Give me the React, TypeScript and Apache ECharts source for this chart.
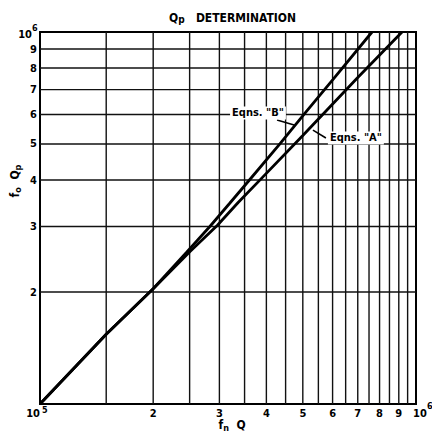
import React, { useEffect, useRef } from "react";
import * as echarts from "echarts";

// ---- data (values in units of 10^5) ----
const SCALE = 1e5;
const AXIS_MIN = 1e5;
const AXIS_MAX = 1e6;

const xGridValues = [1.5, 2, 2.5, 3, 3.5, 4, 4.5, 5, 5.5, 6, 6.5, 7, 7.5, 8, 8.5, 9, 9.5];
const yGridValues = [2, 3, 4, 5, 6, 7, 8, 9];
const tickValues = [2, 3, 4, 5, 6, 7, 8, 9];
const tickLabels = ["2", "3", "4", "5", "6", "7", "8", "9"];
const decadeLabels = ["10", "10", "10"];
const decadeExponents = ["5", "6", "6"];

const eqnAX = [1, 1.5, 2, 2.506, 2.96, 3.365, 3.9, 5, 6.97, 9.18];
const eqnAY = [1, 1.54, 2.04, 2.57, 3.02, 3.48, 4.06, 5.27, 7.51, 10];
const eqnBX = [1, 1.5, 2, 2.455, 2.83, 3.2, 3.62, 4.35, 5.08, 6.01, 7.64];
const eqnBY = [1, 1.54, 2.04, 2.56, 3, 3.47, 4.02, 5.01, 6.07, 7.45, 10];

const annotationLabels = ['Eqns. "B"', 'Eqns. "A"'];
const annotationX = [3.8, 6.92];
const annotationY = [6.06, 5.19];
const leaderFromX = [4.27, 5.32];
const leaderFromY = [5.8, 5.45];
const leaderToX = [4.74, 5.76];
const leaderToY = [5.62, 5.19];

const FONT = '"DejaVu Sans Condensed", "DejaVu Sans", sans-serif';

export default function App() {
  const ref = useRef<HTMLDivElement>(null);

  useEffect(() => {
    if (!ref.current) return;
    const chart = echarts.init(ref.current, undefined, { renderer: "svg" });

    const txt = (x: number, y: number, text: string, align: string, size = 11) => ({
      type: "text",
      x,
      y,
      style: {
        text,
        fill: "#000",
        fontFamily: FONT,
        fontWeight: "bold",
        fontSize: size,
        align,
        verticalAlign: "middle",
      },
    });

    const option: any = {
      animation: false,
      backgroundColor: "#fff",
      title: {
        text: "Q{s|p}   DETERMINATION",
        left: 164,
        top: 6,
        textStyle: {
          fontFamily: FONT,
          fontWeight: "bold",
          fontSize: 12,
          color: "#000",
          rich: {
            s: { fontFamily: FONT, fontWeight: "bold", fontSize: 10, color: "#000", padding: [3, 0, 0, 0] },
          },
        },
      },
      grid: {
        left: 40,
        right: 16,
        top: 32,
        bottom: 30,
        show: true,
        borderColor: "#000",
        borderWidth: 2,
        backgroundColor: "#fff",
        containLabel: false,
        outerBoundsMode: "none",
      },
      xAxis: {
        type: "log",
        logBase: 10,
        min: AXIS_MIN,
        max: AXIS_MAX,
        axisLine: { show: true, lineStyle: { color: "#000", width: 2 } },
        axisTick: { show: false },
        axisLabel: { show: false },
        splitLine: { show: false },
      },
      yAxis: {
        type: "log",
        logBase: 10,
        min: AXIS_MIN,
        max: AXIS_MAX,
        axisLine: { show: true, lineStyle: { color: "#000", width: 2 } },
        axisTick: { show: false },
        axisLabel: { show: false },
        splitLine: { show: false },
      },
      graphic: [
        {
          type: "text",
          x: 15,
          y: 181,
          rotation: Math.PI / 2,
          style: {
            text: "f{s|o}  Q{s|p}",
            fill: "#000",
            fontFamily: FONT,
            fontWeight: "bold",
            fontSize: 12,
            align: "center",
            verticalAlign: "middle",
            rich: {
              s: { fontFamily: FONT, fontWeight: "bold", fontSize: 9, fill: "#000", padding: [6, 0, 0, 0] },
            },
          },
        },
        {
          type: "text",
          x: 232,
          y: 425,
          style: {
            text: "f{s|n}  Q",
            fill: "#000",
            fontFamily: FONT,
            fontWeight: "bold",
            fontSize: 12,
            align: "center",
            verticalAlign: "middle",
            rich: {
              s: { fontFamily: FONT, fontWeight: "bold", fontSize: 9, fill: "#000", padding: [6, 0, 0, 0] },
            },
          },
        },
      ],
      series: [
        {
          type: "custom",
          name: "vgrid",
          silent: true,
          z: 1,
          data: xGridValues.map((v) => [v * SCALE, AXIS_MIN]),
          renderItem: (params: any, api: any) => {
            const v = api.value(0);
            const a = api.coord([v, AXIS_MIN]);
            const b = api.coord([v, AXIS_MAX]);
            return {
              type: "line",
              shape: { x1: a[0], y1: a[1], x2: b[0], y2: b[1] },
              style: { stroke: "#111", lineWidth: 1.4 },
            };
          },
        },
        {
          type: "custom",
          name: "hgrid",
          silent: true,
          z: 1,
          data: yGridValues.map((v) => [AXIS_MIN, v * SCALE]),
          renderItem: (params: any, api: any) => {
            const v = api.value(1);
            const a = api.coord([AXIS_MIN, v]);
            const b = api.coord([AXIS_MAX, v]);
            return {
              type: "line",
              shape: { x1: a[0], y1: a[1], x2: b[0], y2: b[1] },
              style: { stroke: "#111", lineWidth: 1.4 },
            };
          },
        },
        {
          type: "custom",
          name: "xlabels",
          silent: true,
          z: 5,
          data: tickValues.map((v) => [v * SCALE, AXIS_MIN]),
          renderItem: (params: any, api: any) => {
            const p = api.coord([api.value(0), AXIS_MIN]);
            return txt(p[0], p[1] + 9, tickLabels[params.dataIndex], "center");
          },
        },
        {
          type: "custom",
          name: "ylabels",
          silent: true,
          z: 5,
          data: tickValues.map((v) => [AXIS_MIN, v * SCALE]),
          renderItem: (params: any, api: any) => {
            const p = api.coord([AXIS_MIN, api.value(1)]);
            return txt(p[0] - 3, p[1], tickLabels[params.dataIndex], "right");
          },
        },
        {
          type: "custom",
          name: "decades",
          silent: true,
          z: 5,
          data: [
            [AXIS_MIN, AXIS_MIN],
            [AXIS_MAX, AXIS_MIN],
            [AXIS_MIN, AXIS_MAX],
          ],
          renderItem: (params: any, api: any) => {
            const p = api.coord([api.value(0), api.value(1)]);
            const i = params.dataIndex;
            const layouts = [
              { bx: 0, by: 9, ba: "right", ex: 2, ey: 6 },
              { bx: -3, by: 9, ba: "left", ex: 11, ey: 2 },
              { bx: -8, by: 2, ba: "right", ex: -8, ey: -4 },
            ];
            const l = layouts[i];
            return {
              type: "group",
              children: [
                txt(p[0] + l.bx, p[1] + l.by, decadeLabels[i], l.ba),
                txt(p[0] + l.ex, p[1] + l.ey, decadeExponents[i], "left", 9),
              ],
            };
          },
        },
        {
          type: "line",
          name: 'Eqns. "A"',
          data: eqnAX.map((x, i) => [x * SCALE, eqnAY[i] * SCALE]),
          showSymbol: false,
          symbol: "none",
          clip: true,
          z: 3,
          lineStyle: { color: "#000", width: 2.8 },
        },
        {
          type: "line",
          name: 'Eqns. "B"',
          data: eqnBX.map((x, i) => [x * SCALE, eqnBY[i] * SCALE]),
          showSymbol: false,
          symbol: "none",
          clip: true,
          z: 3,
          lineStyle: { color: "#000", width: 2.8 },
        },
        {
          type: "custom",
          name: "annotations",
          silent: true,
          z: 6,
          data: annotationLabels.map((_, i) => [annotationX[i] * SCALE, annotationY[i] * SCALE]),
          renderItem: (params: any, api: any) => {
            const i = params.dataIndex;
            const p = api.coord([api.value(0), api.value(1)]);
            const a = api.coord([leaderFromX[i] * SCALE, leaderFromY[i] * SCALE]);
            const b = api.coord([leaderToX[i] * SCALE, leaderToY[i] * SCALE]);
            return {
              type: "group",
              children: [
                {
                  type: "line",
                  shape: { x1: a[0], y1: a[1], x2: b[0], y2: b[1] },
                  style: { stroke: "#000", lineWidth: 1.6 },
                },
                {
                  type: "text",
                  x: p[0],
                  y: p[1],
                  style: {
                    text: annotationLabels[i],
                    fill: "#000",
                    fontFamily: FONT,
                    fontWeight: "bold",
                    fontSize: 11,
                    align: "center",
                    verticalAlign: "middle",
                    backgroundColor: "#fff",
                    padding: [1, 2, 1, 2],
                  },
                },
              ],
            };
          },
        },
      ],
    };

    chart.setOption(option);
    return () => chart.dispose();
  }, []);

  return (
    <div
      ref={ref}
      style={{ position: "fixed", left: 0, top: 0, width: 432, height: 434, background: "#fff" }}
    />
  );
}
